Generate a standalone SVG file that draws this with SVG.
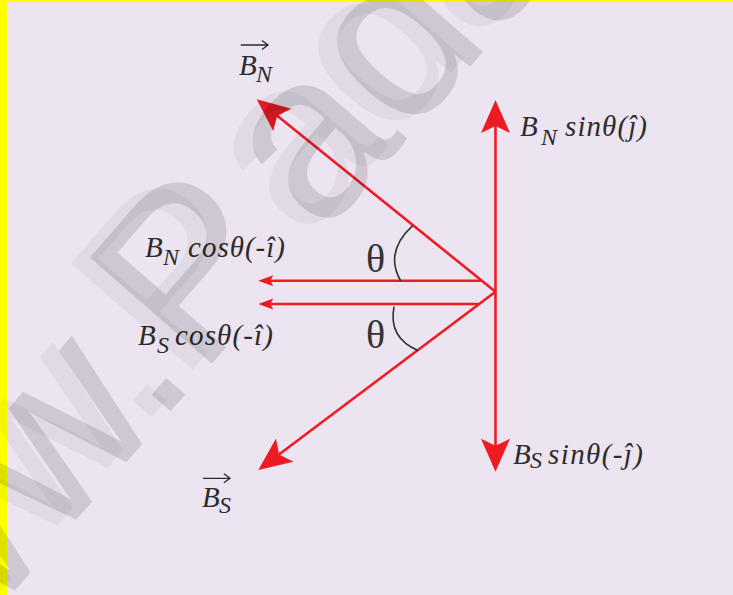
<svg xmlns="http://www.w3.org/2000/svg" width="733" height="595" viewBox="0 0 733 595">
<style>
.vec{stroke:#ED1C24;stroke-width:2.6;fill:none}
.big{marker-end:url(#bigHead)}
.small{marker-end:url(#smallHead)}
.arc{stroke:#333;stroke-width:1.6;fill:none}
.lbl{font-family:"Liberation Serif",serif;font-style:italic;font-size:29px;fill:#2b2b2b}
.sub{font-family:"Liberation Serif",serif;font-style:italic;font-size:24px;fill:#2b2b2b}
.theta{font-family:"Liberation Serif",serif;font-size:40px;fill:#333}
.ovr{stroke:#2b2b2b;stroke-width:1.3;fill:none}
.wm{font-family:"Liberation Sans",Arial,sans-serif;font-size:235px}
</style>
<defs>
<marker id="bigHead" markerUnits="userSpaceOnUse" viewBox="-25 -16 37 32" refX="0" refY="0" markerWidth="37" markerHeight="32" orient="auto-start-reverse">
<path d="M10,0 L-23,-14.5 L-16,0 L-23,14.5 Z" fill="#ED1C24"/>
</marker>
<marker id="smallHead" markerUnits="userSpaceOnUse" viewBox="-11 -7 19 14" refX="0" refY="0" markerWidth="19" markerHeight="14" orient="auto">
<path d="M6,0 L-9,-5.5 L-6,0 L-9,5.5 Z" fill="#ED1C24"/>
</marker>
</defs>
<rect x="0" y="0" width="733" height="595" fill="#ECE4F0"/>
<rect x="0" y="0" width="7" height="595" fill="#FFFF00"/>
<rect x="0" y="0" width="733" height="2" fill="#FFFF00"/>

<g id="connectors">
<line class="vec big" x1="495.5" y1="110" x2="495.5" y2="461.7" style="marker-start:url(#bigHead)"/>
<line class="vec big" x1="495.5" y1="291.7" x2="264.5" y2="105.6"/>
<line class="vec big" x1="495.5" y1="291.7" x2="266.3" y2="464"/>
<line class="vec small" x1="481.4" y1="280.7" x2="264.3" y2="280.7"/>
<line class="vec small" x1="478.7" y1="304" x2="264.3" y2="304"/>
<path class="arc" d="M412.7,225.7 Q384,252 400.7,281"/>
<path class="arc" d="M394,306.7 Q388,338 418.3,350.7"/>
</g>

<g id="theta-upper"><text class="theta" x="366" y="272">θ</text></g>
<g id="theta-lower"><text class="theta" x="366" y="348">θ</text></g>

<g id="label-BN-vector">
<text class="lbl" x="239" y="75">B</text>
<text class="sub" x="256" y="82">N</text>
<path class="ovr" d="M240.7,45 H268 M262,40.5 L268,45 L262,49.5"/>
</g>
<g id="label-BS-vector">
<text class="lbl" x="202" y="506.7">B</text>
<text class="sub" x="219" y="513">S</text>
<path class="ovr" d="M203,478.3 H230 M224,473.8 L230,478.3 L224,482.8"/>
</g>
<g id="label-BN-sin">
<text class="lbl" x="520" y="136">B</text>
<text class="sub" x="541" y="145">N</text>
<text class="lbl" x="565" y="136" textLength="82" lengthAdjust="spacing">sinθ(ĵ)</text>
</g>
<g id="label-BS-sin">
<text class="lbl" x="513" y="463.5">B</text>
<text class="sub" x="530" y="468">S</text>
<text class="lbl" x="548" y="463.5" textLength="95" lengthAdjust="spacing">sinθ(-ĵ)</text>
</g>
<g id="label-BN-cos">
<text class="lbl" x="145" y="257">B</text>
<text class="sub" x="163" y="265">N</text>
<text class="lbl" x="188" y="257" textLength="97" lengthAdjust="spacing">cosθ(-î)</text>
</g>
<g id="label-BS-cos">
<text class="lbl" x="138" y="345">B</text>
<text class="sub" x="157" y="353">S</text>
<text class="lbl" x="175" y="345" textLength="98" lengthAdjust="spacing">cosθ(-î)</text>
</g>

<g id="watermark">
<text class="wm" fill="#000" fill-opacity="0.045" transform="translate(-188,808) rotate(-49)">www.P<tspan dx="30">adasalai.Net</tspan></text>
<text class="wm" fill="#000" fill-opacity="0.12" transform="translate(-169,802) rotate(-49)">www.P<tspan dx="30">adasalai.Net</tspan></text>
</g>
</svg>
